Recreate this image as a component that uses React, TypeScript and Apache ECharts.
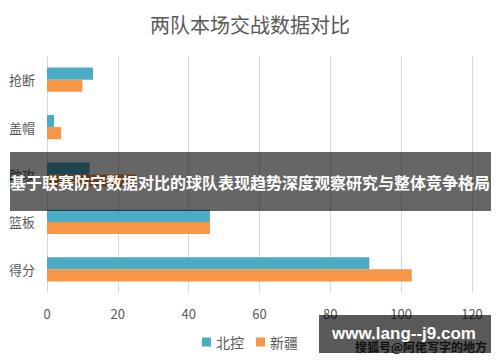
import React, { useEffect, useRef } from "react";
import * as echarts from "echarts";

const categories = ["抢断", "盖帽", "助攻", "篮板", "得分"];
const beikong = [13, 2, 12, 46, 91];
const xinjiang = [10, 4, 25, 46, 103];
const seriesNames = ["北控", "新疆"];
const xTicks = { min: 0, max: 120, interval: 20 };

export default function App() {
  const ref = useRef<HTMLDivElement>(null);
  useEffect(() => {
    if (!ref.current) return;
    const chart = echarts.init(ref.current, undefined, { renderer: "svg" });
    const font = "'Noto Sans CJK SC', 'Noto Sans', sans-serif";
    chart.setOption({
      animation: false,
      backgroundColor: "#ffffff",
      title: {
        text: "两队本场交战数据对比",
        left: "center",
        top: 9,
        textStyle: { fontSize: 20, fontWeight: "normal", color: "#595959", fontFamily: font },
      },
      legend: {
        bottom: 8,
        left: "center",
        itemWidth: 9,
        itemHeight: 9,
        itemGap: 12,
        itemTextGap: 4,
        icon: "rect",
        textStyle: { fontSize: 14, color: "#595959", fontFamily: font },
        data: seriesNames,
      },
      grid: { left: 47, right: 28, top: 56, bottom: 69, containLabel: false },
      xAxis: {
        type: "value",
        min: xTicks.min,
        max: xTicks.max,
        interval: xTicks.interval,
        axisLine: { show: false },
        axisTick: { show: false },
        splitLine: { show: true, lineStyle: { color: "#d9d9d9", width: 1 } },
        axisLabel: { fontSize: 13, color: "#595959", margin: 14, fontFamily: font },
      },
      yAxis: {
        type: "category",
        data: categories,
        inverse: true,
        axisLine: { show: false },
        axisTick: { show: false },
        axisLabel: { fontSize: 13, color: "#595959", margin: 12, fontFamily: font },
      },
      series: [
        {
          name: seriesNames[0],
          type: "bar",
          data: beikong,
          itemStyle: { color: "#4bacc6" },
          barGap: "0%",
          barCategoryGap: "49%",
        },
        {
          name: seriesNames[1],
          type: "bar",
          data: xinjiang,
          itemStyle: { color: "#f79646" },
          barGap: "0%",
          barCategoryGap: "49%",
        },
      ],
      graphic: [
        {
          type: "text",
          left: 355,
          top: 340,
          z: 90,
          style: {
            text: "搜狐号@阿佬写字的地方",
            fontSize: 12,
            fontWeight: "bold",
            fill: "#333333",
            fontFamily: font,
          },
        },
        {
          type: "rect",
          shape: { x: 10, y: 152, width: 481, height: 59 },
          z: 100,
          style: { fill: "rgba(0,0,0,0.6)" },
        },
        {
          type: "text",
          x: 250,
          y: 182,
          z: 101,
          style: {
            text: "基于联赛防守数据对比的球队表现趋势深度观察研究与整体竞争格局",
            fontSize: 16,
            fontWeight: "bold",
            fill: "#ffffff",
            align: "center",
            verticalAlign: "middle",
            fontFamily: font,
          },
        },
        {
          type: "rect",
          shape: { x: 319, y: 315, width: 172, height: 38 },
          z: 100,
          style: { fill: "rgba(0,0,0,0.65)" },
        },
        {
          type: "text",
          x: 404,
          y: 333,
          z: 101,
          style: {
            text: "www.lang--j9.com",
            fontSize: 17,
            fontWeight: "bold",
            fill: "#ffffff",
            align: "center",
            verticalAlign: "middle",
            fontFamily: "'Liberation Sans', Arial, sans-serif",
          },
        },
      ],
    });
    return () => chart.dispose();
  }, []);
  return <div ref={ref} style={{ width: 500, height: 362, position: "absolute", left: 0, top: 0 }} />;
}
